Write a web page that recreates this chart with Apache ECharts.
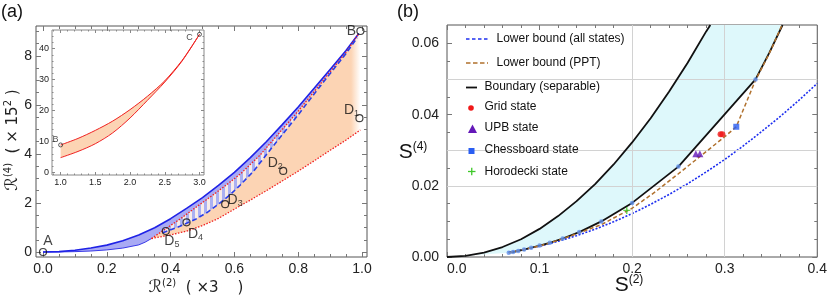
<!DOCTYPE html>
<html><head><meta charset="utf-8">
<script src="https://cdn.jsdelivr.net/npm/echarts@6/dist/echarts.min.js"></script>
<style>html,body{margin:0;padding:0;background:#fff}#c{width:830px;height:297px}</style>
</head><body><div id="c"></div>
<script>
// ================= Panel (a) data =================
const aUpperBlue = [[0,0],[0.05,0.015],[0.1,0.07],[0.15,0.16],[0.2,0.28],[0.25,0.46],[0.3,0.69],[0.35,0.99],[0.4,1.36],[0.45,1.78],[0.5,2.22],[0.55,2.72],[0.6,3.25],[0.65,3.85],[0.7,4.5],[0.75,5.2],[0.8,5.92],[0.85,6.68],[0.9,7.45],[0.95,8.22],[0.99,8.92]];
const aLowerBlue = [[0,0],[0.05,0.003],[0.1,0.015],[0.15,0.04],[0.2,0.085],[0.25,0.16],[0.3,0.29],[0.32,0.4],[0.34,0.55]];
const aRedUpper = [[0.34,0.55],[0.377,0.88],[0.43,1.35],[0.482,1.85],[0.53,2.3],[0.576,2.75],[0.62,3.2],[0.68,3.95],[0.74,4.85],[0.8,5.75],[0.85,6.55],[0.9,7.35],[0.95,8.15],[0.99,8.92]];
const aRedLower = [[0.34,0.55],[0.4,0.7],[0.45,0.85],[0.5,1.08],[0.55,1.37],[0.6,1.75],[0.65,2.12],[0.7,2.5],[0.75,2.9],[0.8,3.3],[0.85,3.72],[0.9,4.15],[0.95,4.57],[0.995,4.98]];
const aBlueDashed = [[0.375,0.78],[0.429,1.05],[0.48,1.35],[0.513,1.6],[0.55,1.95],[0.586,2.33],[0.618,2.73],[0.66,3.3],[0.72,4.3],[0.8,5.6],[0.85,6.45],[0.9,7.28],[0.95,8.1],[0.985,8.75]];
const aPointNames = ['A','B','D1','D2','D3','D4','D5'];
const aPointXY = [[0,0],[0.995,9.02],[0.992,5.46],[0.753,3.31],[0.571,1.95],[0.45,1.21],[0.385,0.857]];
const aXMajor = [0,0.2,0.4,0.6,0.8,1.0];
const aXMinor = [0.05,0.1,0.15,0.25,0.3,0.35,0.45,0.5,0.55,0.65,0.7,0.75,0.85,0.9,0.95];
const aYMajor = [0,2,4,6,8];
const aYMinor = [0.5,1,1.5,2.5,3,3.5,4.5,5,5.5,6.5,7,7.5,8.5,9];

// inset
const inUpper = [[1.0,8.9],[1.25,11.0],[1.5,13.6],[1.75,16.6],[2.0,20.3],[2.25,24.6],[2.5,29.6],[2.75,36.2],[3.0,44.6]];
const inLower = [[1.0,4.8],[1.25,6.8],[1.5,9.3],[1.75,12.8],[2.0,17.6],[2.25,23.3],[2.5,29.2],[2.75,36.0],[3.0,44.6]];
const inPointNames = ['B','C'];
const inPointXY = [[1.0,8.9],[3.0,44.6]];
const inXMajor = [1.0,1.5,2.0,2.5,3.0];
const inXMinor = [0.9,1.1,1.2,1.3,1.4,1.6,1.7,1.8,1.9,2.1,2.2,2.3,2.4,2.6,2.7,2.8,2.9,3.1];
const inYMajor = [0,10,20,30,40];
const inYMinor = [2,4,6,8,12,14,16,18,22,24,26,28,32,34,36,38,42,44];

// ================= Panel (b) data =================
const bUpper = [[0,0],[0.02,0.0003],[0.04,0.0012],[0.06,0.0028],[0.08,0.005],[0.1,0.0079],[0.12,0.0115],[0.14,0.0157],[0.16,0.0205],[0.18,0.026],[0.2,0.0322],[0.22,0.039],[0.24,0.0465],[0.26,0.0546],[0.28,0.0634],[0.2845,0.0652]];
const bMarkers = [[0.0667,0.0012],[0.0714,0.0014],[0.0769,0.0017],[0.0833,0.0021],[0.0909,0.0026],[0.1,0.0032],[0.1111,0.004],[0.125,0.0052],[0.1429,0.007],[0.1667,0.01],[0.2,0.0152],[0.25,0.0254],[0.3333,0.0499]];
const bBoundaryTail = [[0.348,0.0573],[0.3625,0.0652]];
const bAllStates = [[0.0667,0.00136],[0.08,0.00195],[0.1,0.00305],[0.12,0.0044],[0.14,0.006],[0.16,0.0078],[0.18,0.0099],[0.2,0.0122],[0.22,0.0148],[0.24,0.0176],[0.26,0.0206],[0.28,0.0239],[0.3,0.0274],[0.32,0.0312],[0.34,0.0353],[0.36,0.0395],[0.38,0.044],[0.4,0.0488]];
const bPPT = [[0.0667,0.0012],[0.1,0.0031],[0.125,0.0051],[0.1429,0.0068],[0.1667,0.0091],[0.2,0.0137],[0.225,0.0183],[0.25,0.0234],[0.275,0.0286],[0.3,0.0338],[0.3125,0.0366],[0.3333,0.0497],[0.348,0.0571],[0.362,0.0652]];
const bGrid = [[0.2955,0.0345],[0.2975,0.0345]];
const bUPB = [[0.2688,0.029],[0.2732,0.029]];
const bChess = [[0.3125,0.0366]];
const bHoro = [[0.1942,0.0131]];
const bXMajor = [0,0.1,0.2,0.3,0.4];
const bXMinor = [0.02,0.04,0.06,0.08,0.12,0.14,0.16,0.18,0.22,0.24,0.26,0.28,0.32,0.34,0.36,0.38];
const bYMajor = [0,0.02,0.04,0.06];
const bYMinor = [0.005,0.01,0.015,0.025,0.03,0.035,0.045,0.05,0.055];
const bGridX = [0.2,0.3];
const bGridY = [0.0163,0.0326,0.049];

// ================= build =================
const FONT = "'Liberation Sans', Arial, sans-serif";
const MATH = "'DejaVu Sans', sans-serif";
const xAxes = [], yAxes = [];
function addFrame(gi, xr, yr, xMaj, xMin, yMaj, yMin, o) {
  const ax = (pos, r, ticks, len, lab) => ({
    gridIndex: gi, type: 'value', position: pos, min: r[0], max: r[1],
    axisLine: {show: false, onZero: false}, splitLine: {show: false},
    axisTick: {show: true, inside: true, length: len, customValues: ticks, lineStyle: {color: o.tick, width: 1}},
    axisLabel: lab ? Object.assign({show: true, customValues: ticks, fontFamily: FONT, color: '#222'}, lab) : {show: false}
  });
  xAxes.push(ax('bottom', xr, xMaj, o.maj, o.xLab), ax('bottom', xr, xMin, o.min, null), ax('top', xr, xMaj, o.maj, null), ax('top', xr, xMin, o.min, null));
  yAxes.push(ax('left', yr, yMaj, o.maj, o.yLab), ax('left', yr, yMin, o.min, null), ax('right', yr, yMaj, o.maj, null), ax('right', yr, yMin, o.min, null));
}
addFrame(0, [-0.022, 1.0157], [-0.204, 9.224], aXMajor, aXMinor, aYMajor, aYMinor,
  {tick: '#777', maj: 5, min: 3, xLab: {fontSize: 14, margin: 5, formatter: v => v.toFixed(1)}, yLab: {fontSize: 14, margin: 4, formatter: v => String(v)}});
addFrame(1, [0.876, 3.065], [-0.8, 46], inXMajor, inXMinor, inYMajor, inYMinor,
  {tick: '#888', maj: 3, min: 1.5, xLab: {fontSize: 9, margin: 3, formatter: v => v.toFixed(1)}, yLab: {fontSize: 9, margin: 3, formatter: v => String(v)}});
addFrame(2, [0, 0.4], [0, 0.0652], bXMajor, bXMinor, bYMajor, bYMinor,
  {tick: '#777', maj: 5, min: 3, xLab: {fontSize: 14, margin: 5, alignMinLabel: 'left', formatter: v => v.toFixed(1)}, yLab: {fontSize: 14, margin: 8, formatter: v => v.toFixed(2)}});

function poly(ai, pts, fill, z) {
  return {type: 'custom', xAxisIndex: ai, yAxisIndex: ai, z: z, silent: true, animation: false, clip: true,
    data: [0], renderItem: (params, api) => ({type: 'polygon', shape: {points: pts.map(p => api.coord(p))}, style: {fill: fill}})};
}
function line(ai, pts, color, width, type, z, smooth) {
  return {type: 'line', xAxisIndex: ai, yAxisIndex: ai, data: pts, symbol: 'none', showSymbol: false, silent: true,
    animation: false, z: z, smooth: smooth || false, lineStyle: {color: color, width: width, type: type}};
}
const rev = a => a.slice().reverse();
const hatch = (() => { const c = document.createElement('canvas'); c.width = 6; c.height = 6; const g = c.getContext('2d');
  g.fillStyle = '#f7ece8'; g.fillRect(0, 0, 6, 6); g.fillStyle = '#aab0f2'; g.fillRect(0, 0, 3, 6); return {image: c, repeat: 'repeat'}; })();
const orangeFill = new echarts.graphic.LinearGradient(0, 0, 1, 0, [
  {offset: 0, color: '#fcd4b4'}, {offset: 0.955, color: '#fcd4b4'}, {offset: 1, color: 'rgba(252,212,180,0)'}]);

const rich = {n: {fontSize: 14, lineHeight: 16, color: '#111', fontFamily: FONT}, s: {fontSize: 9, lineHeight: 9, verticalAlign: 'bottom', color: '#111', fontFamily: FONT}};
const richSmall = {n: {fontSize: 9, lineHeight: 10, color: '#222', fontFamily: FONT}};
const fmtName = s => '{n|' + s[0] + '}' + (s.length > 1 ? '{s|' + s.slice(1) + '}' : '');
const aOffsets = [[5, -11], [-9, 0], [-8, -8], [-8, -8], [10, -4], [9, 12], [6, 10]];
const inOffsets = [[-5, -5], [-10, 3]];

const hatchPts = aRedUpper.filter(p => p[0] >= 0.377 && p[0] <= 0.8).concat(rev(aBlueDashed.filter(p => p[0] <= 0.8)));
const series = [
  // (a)
  poly(0, aRedUpper.concat([[0.995, 9.02]], rev(aRedLower)), orangeFill, 1),
  poly(0, hatchPts, hatch, 2),
  poly(0, aUpperBlue.concat(rev(aRedUpper), rev(aLowerBlue)), '#a9aaf4', 3),
  line(0, aLowerBlue, '#3a3ae8', 1, 'solid', 4),
  line(0, aUpperBlue, '#1f22e6', 1.6, 'solid', 4),
  line(0, aRedUpper, '#f02020', 1.3, [1.5, 1.5], 5),
  line(0, aRedLower, '#f02020', 1.3, [1.5, 1.5], 5),
  line(0, aBlueDashed, '#2a3ee8', 1.6, [5, 3], 6),
  {type: 'scatter', xAxisIndex: 0, yAxisIndex: 0, z: 10, silent: true, animation: false, symbol: 'circle', symbolSize: 7,
    itemStyle: {color: 'rgba(255,255,255,0)', borderColor: '#111', borderWidth: 1.2},
    data: aPointXY.map((p, i) => ({value: p, label: {show: true, position: 'inside', offset: aOffsets[i], formatter: fmtName(aPointNames[i]), rich: rich}}))},
  // inset
  poly(4, inUpper.concat(rev(inLower)), '#fcd4b4', 2),
  line(4, inUpper, '#f02020', 1, 'solid', 3, 0.3),
  line(4, inLower, '#f02020', 1, 'solid', 3, 0.3),
  {type: 'scatter', xAxisIndex: 4, yAxisIndex: 4, z: 10, silent: true, animation: false, symbol: 'circle', symbolSize: 4,
    itemStyle: {color: 'rgba(255,255,255,0)', borderColor: '#333', borderWidth: 1},
    data: inPointXY.map((p, i) => ({value: p, label: {show: true, position: 'inside', offset: inOffsets[i], formatter: '{n|' + inPointNames[i] + '}', rich: richSmall}}))},
  // (b)
  {type: 'line', xAxisIndex: 8, yAxisIndex: 8, data: [], z: 1, silent: true, animation: false,
    markLine: {silent: true, animation: false, symbol: ['none', 'none'], label: {show: false}, lineStyle: {color: '#d2d2d2', width: 1, type: 'solid'},
      data: bGridX.map(v => ({xAxis: v})).concat(bGridY.map(v => ({yAxis: v})))}},
  poly(8, bUpper.concat(rev(bBoundaryTail), rev(bMarkers)), '#def8fb', 2),
  line(8, bAllStates, '#1e2ff0', 1.6, [2, 1.6], 4),
  line(8, bMarkers.concat(bBoundaryTail), '#111', 1.8, 'solid', 5),
  line(8, bUpper, '#111', 1.8, 'solid', 5),
  line(8, bPPT, '#b0702c', 1.5, [4, 2.5], 6),
  {type: 'scatter', xAxisIndex: 8, yAxisIndex: 8, z: 7, silent: true, animation: false, symbol: 'circle', symbolSize: 4.5, itemStyle: {color: '#5e8fea'}, data: bMarkers},
  {type: 'scatter', xAxisIndex: 8, yAxisIndex: 8, z: 8, silent: true, animation: false, symbol: 'circle', symbolSize: 6, itemStyle: {color: '#f01818'}, data: bGrid},
  {type: 'scatter', xAxisIndex: 8, yAxisIndex: 8, z: 8, silent: true, animation: false, symbol: 'triangle', symbolSize: 7, itemStyle: {color: '#6418b8'}, data: bUPB},
  {type: 'scatter', xAxisIndex: 8, yAxisIndex: 8, z: 8, silent: true, animation: false, symbol: 'rect', symbolSize: 6, itemStyle: {color: '#2a5ef2'}, data: bChess},
  {type: 'scatter', xAxisIndex: 8, yAxisIndex: 8, z: 8, silent: true, animation: false, symbol: 'path://M4,0h2v4h4v2h-4v4h-2v-4h-4v-2h4z', symbolSize: 7, itemStyle: {color: '#3fc82a'}, data: bHoro}
];

const T = (x, y, text, font, extra) => ({type: 'text', x: x, y: y, z: 100, style: Object.assign({text: text, font: font, fill: '#111', textAlign: 'left', textVerticalAlign: 'middle', align: 'left', verticalAlign: 'middle'}, extra || {})});
const graphic = [
  T(1, 12, '(a)', '18px ' + FONT),
  T(397, 12, '(b)', '18px ' + FONT),
  // (a) axis titles
  {type: 'text', x: 196, y: 288, z: 100, style: {text: '{r|ℛ}{p|(2)}{t|  ( ×3    )}', textAlign: 'center', textVerticalAlign: 'middle', align: 'center', verticalAlign: 'middle',
    rich: {r: {fontSize: 17, fontFamily: MATH, lineHeight: 20, fill: '#222'}, p: {fontSize: 10, fontFamily: MATH, lineHeight: 12, verticalAlign: 'top', fill: '#222'}, t: {fontSize: 15, fontFamily: MATH, lineHeight: 20, fill: '#222'}}}},
  {type: 'text', x: 13, y: 140, rotation: Math.PI / 2, z: 100, style: {text: '{r|ℛ}{p|(4)}{t|  ( × 15}{p|2}{t| )}', textAlign: 'center', textVerticalAlign: 'middle', align: 'center', verticalAlign: 'middle',
    rich: {r: {fontSize: 17, fontFamily: MATH, lineHeight: 20, fill: '#222'}, p: {fontSize: 10, fontFamily: MATH, lineHeight: 12, verticalAlign: 'top', fill: '#222'}, t: {fontSize: 15, fontFamily: MATH, lineHeight: 20, fill: '#222'}}}},
  // (b) axis titles
  {type: 'text', x: 629, y: 285, z: 100, style: {text: '{s|S}{p|(2)}', textAlign: 'center', textVerticalAlign: 'middle', align: 'center', verticalAlign: 'middle',
    rich: {s: {fontSize: 21, fontFamily: FONT, lineHeight: 22, fill: '#111'}, p: {fontSize: 12, fontFamily: FONT, lineHeight: 13, verticalAlign: 'top', fill: '#111'}}}},
  {type: 'text', x: 413, y: 152, z: 100, style: {text: '{s|S}{p|(4)}', textAlign: 'center', textVerticalAlign: 'middle', align: 'center', verticalAlign: 'middle',
    rich: {s: {fontSize: 21, fontFamily: FONT, lineHeight: 22, fill: '#111'}, p: {fontSize: 12, fontFamily: FONT, lineHeight: 13, verticalAlign: 'top', fill: '#111'}}}},
  // (b) legend
  {type: 'line', z: 100, shape: {x1: 466, y1: 39, x2: 488, y2: 39}, style: {stroke: '#1e2ff0', lineWidth: 1.6, lineDash: [3.5, 2.5]}},
  T(496.5, 39, 'Lower bound (all states)', '12px ' + FONT),
  {type: 'line', z: 100, shape: {x1: 466, y1: 63, x2: 488, y2: 63}, style: {stroke: '#b0702c', lineWidth: 1.6, lineDash: [4.5, 2.5]}},
  T(496.5, 63, 'Lower bound (PPT)', '12px ' + FONT),
  {type: 'line', z: 100, shape: {x1: 466, y1: 87.5, x2: 477, y2: 87.5}, style: {stroke: '#111', lineWidth: 1.8}},
  T(484.5, 86.5, 'Boundary (separable)', '12px ' + FONT),
  {type: 'circle', z: 100, shape: {cx: 471, cy: 108, r: 2.8}, style: {fill: '#f01818'}},
  T(484.5, 107, 'Grid state', '12px ' + FONT),
  {type: 'polygon', z: 100, shape: {points: [[472.5, 124.5], [477, 133], [468, 133]]}, style: {fill: '#6418b8'}},
  T(484.5, 128, 'UPB state', '12px ' + FONT),
  {type: 'rect', z: 100, shape: {x: 468.5, y: 148, width: 6, height: 6}, style: {fill: '#2a5ef2'}},
  T(484.5, 149.5, 'Chessboard state', '12px ' + FONT),
  {type: 'line', z: 100, shape: {x1: 468, y1: 171.5, x2: 475.5, y2: 171.5}, style: {stroke: '#3fc82a', lineWidth: 1.3}},
  {type: 'line', z: 100, shape: {x1: 471.75, y1: 167.75, x2: 471.75, y2: 175.25}, style: {stroke: '#3fc82a', lineWidth: 1.3}},
  T(484.5, 171.5, 'Horodecki state', '12px ' + FONT)
];

const chart = echarts.init(document.getElementById('c'), null, {renderer: 'canvas', width: 830, height: 297});
chart.setOption({
  animation: false,
  backgroundColor: '#fff',
  grid: [
    {left: 36, top: 26, width: 331, height: 231, show: true, borderColor: '#555', borderWidth: 1, backgroundColor: 'transparent'},
    {left: 52, top: 30, width: 152, height: 145, show: true, borderColor: '#888', borderWidth: 1, backgroundColor: '#fff'},
    {left: 447, top: 25, width: 375, height: 232, show: true, borderColor: '#555', borderWidth: 1, backgroundColor: 'transparent'}
  ],
  xAxis: xAxes, yAxis: yAxes, series: series, graphic: graphic
});
</script></body></html>
